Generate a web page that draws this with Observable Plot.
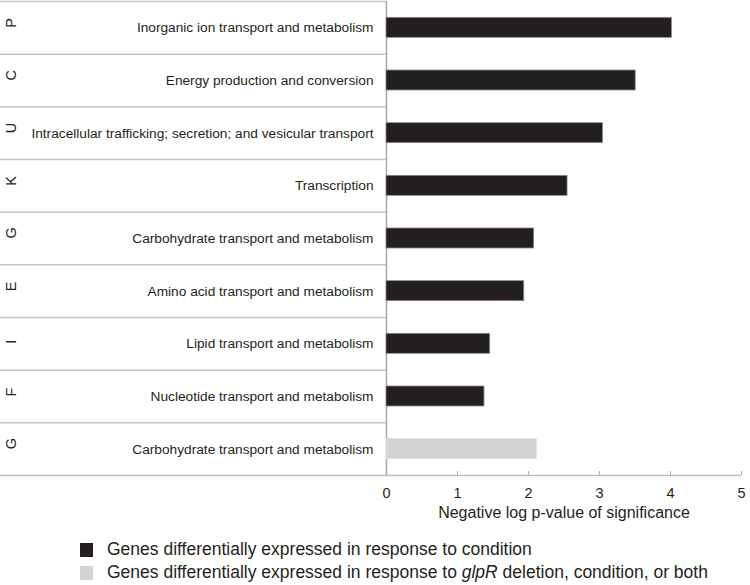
<!DOCTYPE html>
<html>
<head>
<meta charset="utf-8">
<script src="https://cdn.jsdelivr.net/npm/d3@7"></script>
<script src="https://cdn.jsdelivr.net/npm/@observablehq/plot@0.6"></script>
<style>
  html, body { margin: 0; padding: 0; background: #fff; }
  #wrap { position: relative; width: 750px; height: 585px; font-family: "Liberation Sans", Arial, sans-serif; }
  #legend { position: absolute; left: 80px; top: 538px; font-size: 17.5px; color: #231f20; }
  .item { display: flex; align-items: center; height: 23px; white-space: nowrap; }
  .sw { width: 13px; height: 14px; margin-right: 14px; flex: none; }
</style>
</head>
<body>
<div id="wrap"><div id="chart"></div><div id="legend"></div></div>
<script>
// ---- data ----
const letters = ["P", "C", "U", "K", "G", "E", "I", "F", "G"];
const descriptions = [
  "Inorganic ion transport and metabolism",
  "Energy production and conversion",
  "Intracellular trafficking; secretion; and vesicular transport",
  "Transcription",
  "Carbohydrate transport and metabolism",
  "Amino acid transport and metabolism",
  "Lipid transport and metabolism",
  "Nucleotide transport and metabolism",
  "Carbohydrate transport and metabolism"
];
const values = [4.02, 3.51, 3.05, 2.55, 2.08, 1.94, 1.46, 1.38, 2.12];
const groups = ["condition", "condition", "condition", "condition", "condition", "condition", "condition", "condition", "glpR"];
const xTicks = [0, 1, 2, 3, 4, 5];
const groupLabels = {
  condition: "Genes differentially expressed in response to condition",
  glpR: "Genes differentially expressed in response to <i>glpR</i> deletion, condition, or both"
};
const groupColors = {condition: "#231f20", glpR: "#d1d3d4"};

const rows = letters.map((l, i) => ({i, letter: l, desc: descriptions[i], value: values[i], group: groups[i]}));
const boundaries = d3.range(0, rows.length);

const chart = Plot.plot({
  width: 750,
  height: 530,
  marginLeft: 386,
  marginRight: 9,
  marginTop: 1,
  marginBottom: 55,
  style: {fontFamily: "'Liberation Sans', Arial, sans-serif", color: "#231f20", background: "#fff"},
  x: {domain: [0, 5]},
  y: {domain: [0, rows.length], reverse: true, axis: null},
  color: {domain: Object.keys(groupColors), range: Object.values(groupColors)},
  marks: [
    // table row separators
    Plot.ruleY(boundaries, {stroke: "#c2c4c6", strokeWidth: 1.5, insetLeft: -386, insetRight: 355}),
    // bottom axis line across table and plot
    Plot.ruleY([rows.length], {stroke: "#bcbec0", strokeWidth: 1.5, insetLeft: -386}),
    // vertical axis line
    Plot.ruleX([0], {stroke: "#a7a9ac", strokeWidth: 1.5}),
    // tick marks (pointing inward)
    Plot.ruleX(xTicks, {y1: rows.length, y2: rows.length, insetTop: -4, stroke: "#a7a9ac", strokeWidth: 1}),
    // bars
    Plot.rect(rows, {
      x1: 0, x2: "value",
      y1: d => d.i + 0.31, y2: d => d.i + 0.69,
      fill: "group",
      stroke: d => d.group === "glpR" ? "#e0e1e2" : "#8a8c8e",
      strokeWidth: 0.8
    }),
    // category letters
    Plot.text(rows, {
      y: d => d.i + 0.5, frameAnchor: "left", dx: -375, text: "letter",
      rotate: -90, fontSize: 14.5, fill: "#231f20"
    }),
    // descriptions
    Plot.text(rows, {
      y: d => d.i + 0.5, frameAnchor: "left", dx: -13, text: "desc",
      textAnchor: "end", fontSize: 13.7, fill: "#231f20"
    }),
    Plot.axisX({ticks: xTicks, tickSize: 0, tickPadding: 12, fontSize: 14.5, label: null, tickFormat: d3.format("d")}),
    Plot.text(["Negative log p-value of significance"], {
      frameAnchor: "bottom", dy: 42, fontSize: 16, fill: "#231f20"
    })
  ]
});
document.getElementById("chart").appendChild(chart);

const legend = document.getElementById("legend");
for (const g of Object.keys(groupLabels)) {
  const item = document.createElement("div");
  item.className = "item";
  item.innerHTML = `<span class="sw" style="background:${groupColors[g]}"></span><span>${groupLabels[g]}</span>`;
  legend.appendChild(item);
}
</script>
</body>
</html>
